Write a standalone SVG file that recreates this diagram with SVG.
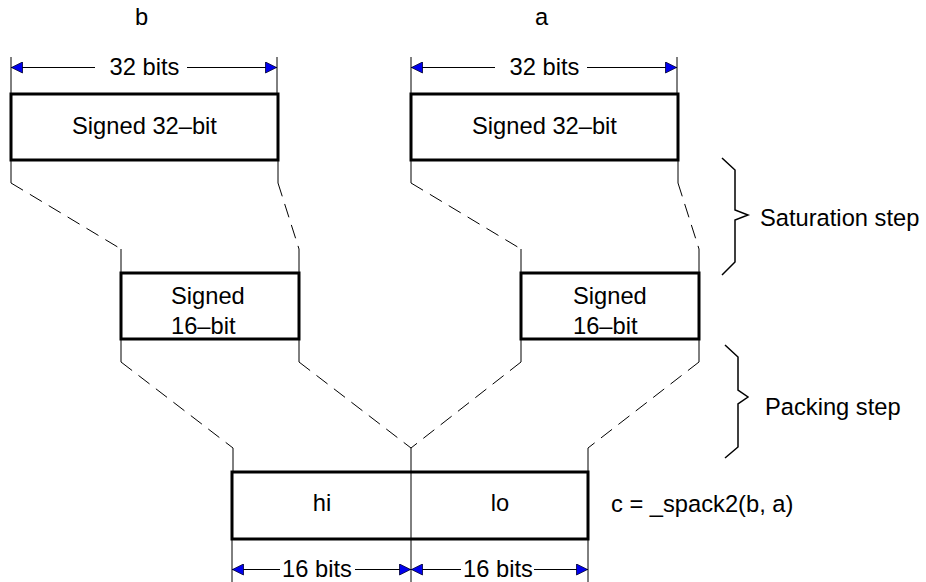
<svg xmlns="http://www.w3.org/2000/svg" width="926" height="582" viewBox="0 0 926 582">
<style>
text{font-family:"Liberation Sans",Arial,sans-serif;font-size:23.7px;fill:#000}
.box{fill:#fff;stroke:#000;stroke-width:3}
.ln{fill:none;stroke:#000;stroke-width:1}
.dash{fill:none;stroke:#000;stroke-width:1;stroke-dasharray:14 8}
.brace{fill:none;stroke:#000;stroke-width:1.5}
.dim{fill:none;stroke:#000;stroke-width:1}
</style>
<defs>
<marker id="ah" viewBox="0 0 12 12" refX="12" refY="6" markerWidth="12" markerHeight="12" markerUnits="userSpaceOnUse" orient="auto-start-reverse">
<path d="M0.5,0.5 L11.5,6 L0.5,11.5 Z" fill="#0000ee" stroke="#000030" stroke-width="0.8"/>
</marker>
</defs>
<rect width="926" height="582" fill="#fff"/>
<g id="connectors">
<path class="ln" d="M11,160 V183"/>
<path class="dash" d="M11,183 L121,249"/>
<path class="ln" d="M121,249 V273"/>
<path class="ln" d="M278,160 V183"/>
<path class="dash" d="M278,183 L299,249"/>
<path class="ln" d="M299,249 V273"/>
<path class="ln" d="M411,160 V183"/>
<path class="dash" d="M411,183 L521,249"/>
<path class="ln" d="M521,249 V273"/>
<path class="ln" d="M678,160 V183"/>
<path class="dash" d="M678,183 L699,249"/>
<path class="ln" d="M699,249 V273"/>
<path class="ln" d="M121,339 V362"/>
<path class="dash" d="M121,362 L233,448"/>
<path class="ln" d="M233,448 V472"/>
<path class="ln" d="M299,339 V362"/>
<path class="dash" d="M299,362 L411,448"/>
<path class="ln" d="M521,339 V362"/>
<path class="dash" d="M521,362 L411,448"/>
<path class="ln" d="M699,339 V362"/>
<path class="dash" d="M699,362 L588,448"/>
<path class="ln" d="M588,448 V472"/>
</g>
<g id="dim-top-b">
<path class="ln" d="M11,57 V93 M277,57 V93"/>
<path class="dim" d="M95,67.5 H11" marker-end="url(#ah)"/>
<path class="dim" d="M187,67.5 H277" marker-end="url(#ah)"/>
<text x="144.5" y="75" text-anchor="middle">32 bits</text>
</g>
<g id="dim-top-a">
<path class="ln" d="M411,57 V93 M677,57 V93"/>
<path class="dim" d="M495,67.5 H411" marker-end="url(#ah)"/>
<path class="dim" d="M587,67.5 H677" marker-end="url(#ah)"/>
<text x="544.5" y="75" text-anchor="middle">32 bits</text>
</g>
<g id="label-b"><text x="135" y="25">b</text></g>
<g id="label-a"><text x="535" y="25">a</text></g>
<g id="node-b32">
<rect class="box" x="11" y="94" width="267" height="66"/>
<text x="144.5" y="134" text-anchor="middle">Signed 32–bit</text>
</g>
<g id="node-a32">
<rect class="box" x="411" y="94" width="267" height="66"/>
<text x="544.5" y="134" text-anchor="middle">Signed 32–bit</text>
</g>
<g id="node-b16">
<rect class="box" x="121" y="273" width="178" height="66"/>
<text x="171" y="304">Signed</text>
<text x="171" y="334">16–bit</text>
</g>
<g id="node-a16">
<rect class="box" x="521" y="273" width="178" height="66"/>
<text x="573" y="304">Signed</text>
<text x="573" y="334">16–bit</text>
</g>
<g id="node-c">
<rect class="box" x="232" y="472" width="356" height="67"/>
<path class="ln" d="M411,448 V582"/>
<text x="322" y="511" text-anchor="middle">hi</text>
<text x="500" y="511" text-anchor="middle">lo</text>
</g>
<g id="label-c"><text x="611" y="512">c = _spack2(b, a)</text></g>
<g id="dim-bottom">
<path class="ln" d="M232,539 V582 M588,539 V582"/>
<path class="dim" d="M280,569.5 H232" marker-end="url(#ah)"/>
<path class="dim" d="M355,569.5 H411" marker-end="url(#ah)"/>
<path class="dim" d="M461,569.5 H411" marker-end="url(#ah)"/>
<path class="dim" d="M534,569.5 H588" marker-end="url(#ah)"/>
<text x="317" y="577" text-anchor="middle">16 bits</text>
<text x="498" y="577" text-anchor="middle">16 bits</text>
</g>
<g id="brace-saturation">
<path class="brace" d="M722,158 L735,170 V210 L748,215 L735,220 V262 L722,275"/>
<text x="760" y="226">Saturation step</text>
</g>
<g id="brace-packing">
<path class="brace" d="M725,345 L738,357 V390 L748,397 L738,404 V447 L725,458"/>
<text x="765" y="415">Packing step</text>
</g>
</svg>
